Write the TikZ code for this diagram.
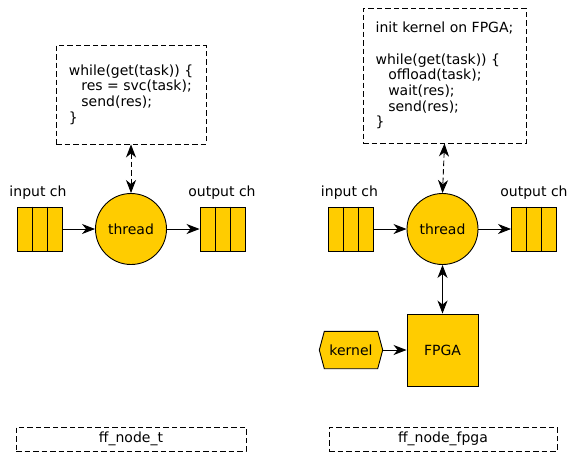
\documentclass[tikz,border=0pt]{standalone}
\usepackage{fontspec}
\setmainfont{DejaVu Sans}
\usetikzlibrary{arrows.meta}
\definecolor{gold}{HTML}{FFCC00}
\begin{document}
\begin{tikzpicture}[x=1pt,y=-1pt,
  every node/.style={font=\fontsize{14}{15.6}\selectfont, inner sep=0pt},
  fillbox/.style={draw, fill=gold, line width=0.9pt},
  queue/.style={fillbox, minimum width=45pt, minimum height=44pt},
  thread/.style={fillbox, circle, minimum size=71pt},
  dbox/.style={draw, dash pattern=on 5.5pt off 3pt, line width=0.9pt},
  code/.style={dbox, align=left},
  conn/.style={line width=0.9pt, -{Stealth[length=13pt,width=10pt,inset=4pt]}},
  biconn/.style={line width=0.9pt, {Stealth[length=13pt,width=10pt,inset=4pt]}-{Stealth[length=13pt,width=10pt,inset=4pt]}},
  lbl/.style={anchor=base}
]
\useasboundingbox (0,0) rectangle (569,453);

% ---------- left: ff_node_t ----------
\node[code, minimum width=150pt, minimum height=99pt] (codeL) at (131,94.5)
  {while(get(task)) \{\\
   \hspace*{0.9em}res = svc(task);\\
   \hspace*{0.9em}send(res);\\
   \}};
\node[queue] (inL) at (39.5,229) {};
\draw[line width=0.9pt] ([xshift=-7.5pt]inL.north) -- ([xshift=-7.5pt]inL.south)
                        ([xshift=7.5pt]inL.north) -- ([xshift=7.5pt]inL.south);
\node[thread] (thL) at (131,229) {thread};
\node[queue] (outL) at (222.5,229) {};
\draw[line width=0.9pt] ([xshift=-7.5pt]outL.north) -- ([xshift=-7.5pt]outL.south)
                        ([xshift=7.5pt]outL.north) -- ([xshift=7.5pt]outL.south);
\node[lbl] (inLl) at (38,196.5) {input ch};
\node[lbl] (outLl) at (222,196.5) {output ch};
\draw[conn] (inL) -- (thL);
\draw[conn] (thL) -- (outL);
\draw[biconn, dash pattern=on 5.5pt off 3pt] (codeL.south) -- (thL.north);
\node[dbox, minimum width=230pt, minimum height=24pt] (nameL) at (131,439) {ff\_node\_t};

% ---------- right: ff_node_fpga ----------
\node[code, minimum width=163pt, minimum height=135pt] (codeR) at (444.5,75.5)
  {init kernel on FPGA;\\[16pt]
   while(get(task)) \{\\
   \hspace*{0.9em}offload(task);\\
   \hspace*{0.9em}wait(res);\\
   \hspace*{0.9em}send(res);\\
   \}};
\node[queue] (inR) at (351,229) {};
\draw[line width=0.9pt] ([xshift=-7.5pt]inR.north) -- ([xshift=-7.5pt]inR.south)
                        ([xshift=7.5pt]inR.north) -- ([xshift=7.5pt]inR.south);
\node[thread] (thR) at (442.5,229) {thread};
\node[queue] (outR) at (534,229) {};
\draw[line width=0.9pt] ([xshift=-7.5pt]outR.north) -- ([xshift=-7.5pt]outR.south)
                        ([xshift=7.5pt]outR.north) -- ([xshift=7.5pt]outR.south);
\node[lbl] (inRl) at (349.5,196.5) {input ch};
\node[lbl] (outRl) at (534,196.5) {output ch};
\draw[conn] (inR) -- (thR);
\draw[conn] (thR) -- (outR);
\draw[biconn, dash pattern=on 5.5pt off 3pt] (codeR.south) -- (thR.north);
\node[fillbox, minimum width=71pt, minimum height=72pt] (fpga) at (442.5,350) {FPGA};
\draw[biconn] (thR.south) -- (fpga.north);
\node[minimum width=63pt, minimum height=37pt] (kernel) at (351,350) {};
\draw[fillbox] (kernel.west) -- ([xshift=5pt]kernel.north west) -- ([xshift=-5pt]kernel.north east)
  -- (kernel.east) -- ([xshift=-5pt]kernel.south east) -- ([xshift=5pt]kernel.south west) -- cycle;
\node at (kernel.center) {kernel};
\draw[conn] (kernel) -- (fpga);
\node[dbox, minimum width=228pt, minimum height=24pt] (nameR) at (443,439) {ff\_node\_fpga};
\end{tikzpicture}
\end{document}
